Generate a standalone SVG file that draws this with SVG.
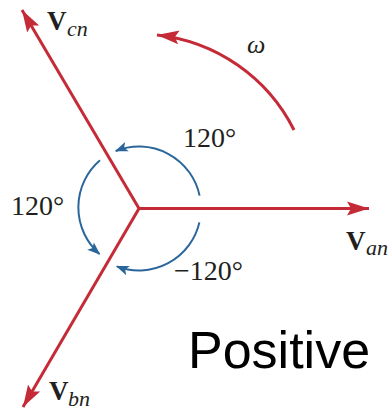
<svg xmlns="http://www.w3.org/2000/svg" width="391" height="411" viewBox="0 0 391 411">
<style>
.red{stroke:#c42b37;stroke-width:3;fill:none}
.blue{stroke:#2b669b;stroke-width:2;fill:none}
text.lbl{font-family:'Liberation Serif','Times New Roman','DejaVu Serif',serif;fill:#231f20}
.V{font-weight:bold;font-size:27px}
.sub{font-style:italic;font-size:22px}
.deg{font-size:28px}
</style>
<defs>
<marker id="ar" markerUnits="userSpaceOnUse" markerWidth="24" markerHeight="16" viewBox="0 -8 24 16" refX="22" refY="0" orient="auto">
<path d="M0,-7 L22,0 L0,7 L4,0 Z" fill="#c42b37"/>
</marker>
<marker id="ab" markerUnits="userSpaceOnUse" markerWidth="14" markerHeight="12" viewBox="0 -6 14 12" refX="12" refY="0" orient="auto">
<path d="M0,-5 L13,0 L0,5 L3,0 Z" fill="#2b669b"/>
</marker>
</defs>
<g id="connectors">
<line class="red" x1="139" y1="208.5" x2="369" y2="208.5" marker-end="url(#ar)"/>
<line class="red" x1="139" y1="208.5" x2="22" y2="10" marker-end="url(#ar)"/>
<line class="red" x1="139" y1="208.5" x2="23" y2="407" marker-end="url(#ar)"/>
<path class="red" d="M294,130 A174,174 0 0 0 157,35" marker-end="url(#ar)"/>
<path class="blue" d="M199.6,195.6 A62,62 0 0 0 115.8,151" marker-end="url(#ab)"/>
<path class="blue" d="M100,160.3 A62,62 0 0 0 99.5,254" marker-end="url(#ab)"/>
<path class="blue" d="M199.4,222.4 A62,62 0 0 1 116.8,266.4" marker-end="url(#ab)"/>
</g>
<g id="Vcn"><text class="lbl"><tspan class="V" x="47" y="30">V</tspan><tspan class="sub" x="67" y="36">cn</tspan></text></g>
<g id="Van"><text class="lbl"><tspan class="V" x="346" y="250">V</tspan><tspan class="sub" x="366" y="255">an</tspan></text></g>
<g id="Vbn"><text class="lbl"><tspan class="V" x="49" y="400">V</tspan><tspan class="sub" x="68" y="406">bn</tspan></text></g>
<g id="omega"><text class="lbl" x="247" y="53" font-style="italic" font-size="26">ω</text></g>
<g id="a1"><text class="lbl deg" x="183" y="147">120°</text></g>
<g id="a2"><text class="lbl deg" x="11" y="215">120°</text></g>
<g id="a3"><text class="lbl deg" x="174" y="280">−120°</text></g>
<g id="positive"><text x="188" y="368" font-family="'Liberation Sans',Arial,sans-serif" font-size="52" fill="#000">Positive</text></g>
</svg>
